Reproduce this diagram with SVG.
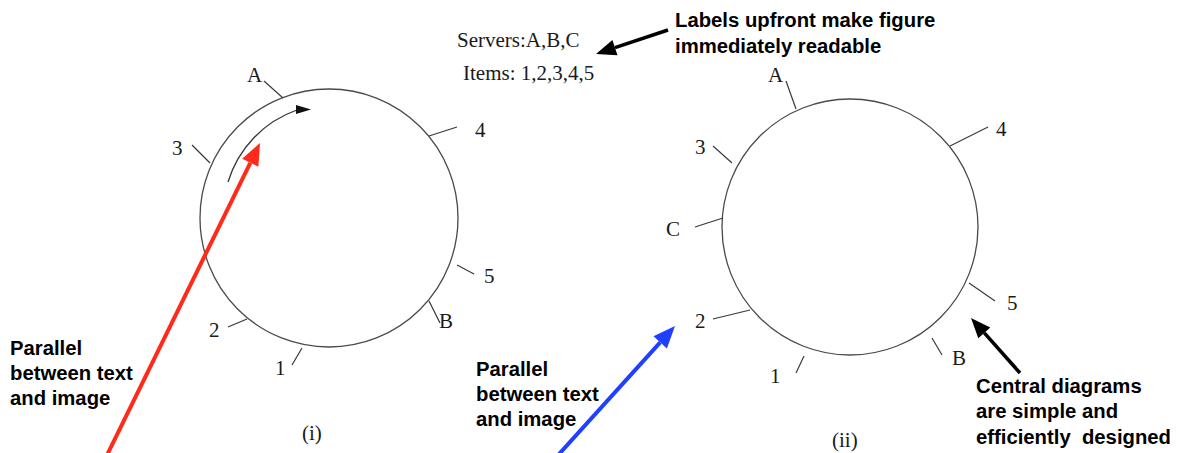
<svg xmlns="http://www.w3.org/2000/svg" width="1180" height="453" viewBox="0 0 1180 453">
<style>
.ring{fill:none;stroke:#4a4a4a;stroke-width:1.3}
.tick{stroke:#3a3a3a;stroke-width:1.2}
.lbl{font-family:"Liberation Serif","Times New Roman",serif;font-size:21px;fill:#1a1a1a}
.note{font-family:"Liberation Sans",Arial,sans-serif;font-size:20.3px;font-weight:bold;fill:#000}
</style>
<rect width="1180" height="453" fill="#fff"/>
<g id="ring-i">
<circle class="ring" cx="329" cy="218" r="129"/>
<line class="tick" x1="264" y1="81" x2="283" y2="98"/>
<line class="tick" x1="192" y1="145" x2="210" y2="163"/>
<line class="tick" x1="429" y1="136" x2="457" y2="127"/>
<line class="tick" x1="457" y1="265" x2="474" y2="274"/>
<line class="tick" x1="429" y1="301" x2="440" y2="323"/>
<line class="tick" x1="228" y1="327" x2="247" y2="319"/>
<line class="tick" x1="292" y1="365" x2="302" y2="348"/>
<text class="lbl" x="247" y="82">A</text>
<text class="lbl" x="172" y="155">3</text>
<text class="lbl" x="475" y="137">4</text>
<text class="lbl" x="484" y="283">5</text>
<text class="lbl" x="439" y="328">B</text>
<text class="lbl" x="209" y="337">2</text>
<text class="lbl" x="275" y="375">1</text>
<path d="M228 182 A110 110 0 0 1 297 110" fill="none" stroke="#333" stroke-width="1.3"/>
<polygon points="311,109.5 296,105 296,114" fill="#111"/>
<text class="lbl" x="302" y="440">(i)</text>
</g>
<g id="ring-ii">
<circle class="ring" cx="850" cy="227" r="128"/>
<line class="tick" x1="786" y1="81" x2="796" y2="109"/>
<line class="tick" x1="950" y1="146" x2="988" y2="127"/>
<line class="tick" x1="713" y1="146" x2="732" y2="163"/>
<line class="tick" x1="695" y1="227" x2="723" y2="218"/>
<line class="tick" x1="713" y1="319" x2="750" y2="310"/>
<line class="tick" x1="796" y1="373" x2="804" y2="356"/>
<line class="tick" x1="932" y1="338" x2="942" y2="355"/>
<line class="tick" x1="969" y1="283" x2="995" y2="301"/>
<text class="lbl" x="768" y="82">A</text>
<text class="lbl" x="996" y="136">4</text>
<text class="lbl" x="695" y="154">3</text>
<text class="lbl" x="666" y="236">C</text>
<text class="lbl" x="695" y="328">2</text>
<text class="lbl" x="770" y="383">1</text>
<text class="lbl" x="952" y="365">B</text>
<text class="lbl" x="1007" y="310">5</text>
<text class="lbl" x="832" y="447">(ii)</text>
</g>
<g id="legend">
<text class="lbl" x="457" y="47">Servers:A,B,C</text>
<text class="lbl" x="463" y="80">Items: 1,2,3,4,5</text>
</g>
<g id="note-labels">
<text class="note" x="675" y="27">Labels upfront make figure</text>
<text class="note" x="675" y="53">immediately readable</text>
</g>
<g id="note-parallel-i">
<text class="note" x="10" y="355">Parallel</text>
<text class="note" x="10" y="380">between text</text>
<text class="note" x="10" y="405">and image</text>
</g>
<g id="note-parallel-ii">
<text class="note" x="476" y="376">Parallel</text>
<text class="note" x="476" y="401">between text</text>
<text class="note" x="476" y="426">and image</text>
</g>
<g id="note-central">
<text class="note" x="976" y="393">Central diagrams</text>
<text class="note" x="976" y="418">are simple and</text>
<text class="note" x="976" y="444" xml:space="preserve">efficiently  designed</text>
</g>
<g id="connectors">
<line x1="104.6" y1="460" x2="250.3" y2="162.8" stroke="#ff2a1a" stroke-width="4"/>
<polygon points="260,143 258.4,166.7 242.2,158.8" fill="#ff2a1a"/>
<line x1="553.7" y1="460" x2="660.2" y2="342.3" stroke="#1f40ff" stroke-width="4"/>
<polygon points="675,326 666.9,348.4 653.5,336.3" fill="#1f40ff"/>
<line x1="668" y1="30" x2="615" y2="47.7" stroke="#000" stroke-width="3.5"/>
<polygon points="596,54 617.5,55.3 612.4,40.1" fill="#000"/>
<line x1="1020" y1="373" x2="984.3" y2="332.9" stroke="#000" stroke-width="3.5"/>
<polygon points="971,318 990.3,327.6 978.3,338.2" fill="#000"/>
</g>
</svg>
